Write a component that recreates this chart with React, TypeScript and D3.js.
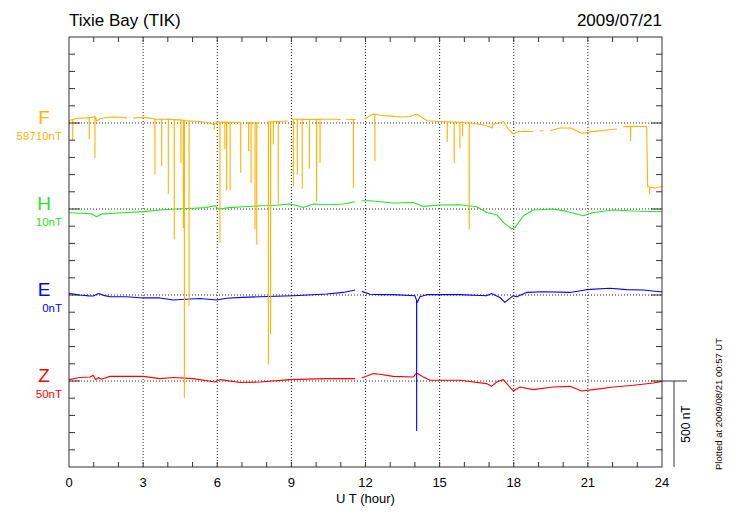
import React, { useEffect, useRef } from 'react';
import * as d3 from 'd3';

type Pt = [number, number | null];

const stationTitle = 'Tixie Bay (TIK)';
const dateLabel = '2009/07/21';
const plottedLabel = 'Plotted at 2009/08/21 00:57 UT';
const xTitle = 'U T (hour)';
const hourTicks = [0, 3, 6, 9, 12, 15, 18, 21, 24];

const channelNames = ['F', 'H', 'E', 'Z'];
const channelBaseLabels = ['59710nT', '10nT', '0nT', '50nT'];
// zero line of each channel on the 0..2500 nT stack
const channelZero = [2000, 1500, 1000, 500];
const scaleBarNT = 500;

// F: deviation from 59710 nT (null = data gap)
const fTrace: Pt[] = [
  [0.0, 15], [0.15, 20], [0.4, 28], [0.7, 30], [0.9, 32], [1.05, 38], [1.12, 12], [1.25, 25],
  [1.5, 32], [1.8, 35], [2.1, 33], [2.35, 30], [2.4, null], [2.6, 30], [2.9, 32], [3.2, 30],
  [3.55, 22], [3.9, 22], [4.2, 20], [4.5, 18], [4.8, 12], [5.2, 10], [5.6, 3], [5.85, -8],
  [6.0, 5], [6.3, 5], [6.6, 3], [6.9, 2], [7.0, null], [7.2, 2], [7.5, 0], [7.7, 2], [7.75, null],
  [8.0, 5], [8.3, 8], [8.6, 10], [8.85, 12], [8.9, null], [9.02, 22], [9.4, 22], [9.8, 20],
  [10.3, 22], [10.8, 22], [11.0, 20], [11.05, null], [11.22, 22], [11.6, 20], [11.65, null],
  [11.98, 23], [12.15, 40], [12.32, 52], [12.6, 45], [13.0, 40], [13.5, 35], [13.8, 38],
  [14.07, 52], [14.3, 30], [14.5, 13], [15.0, 9], [15.5, 6], [16.0, 3], [16.23, 0], [16.5, -6],
  [16.77, -12], [17.0, -20], [17.11, -29], [17.17, -6], [17.4, 0], [17.58, 9], [17.78, -35],
  [17.98, -64], [18.2, -49], [18.5, -49], [18.79, -49], [18.85, null], [19.06, -45], [19.2, -45],
  [19.25, null], [19.47, -45], [19.87, -29], [20.3, -29], [20.75, -60], [21.2, -50], [21.76, -41],
  [22.17, -35], [22.2, null], [22.43, -21], [22.8, -19], [23.1, -20], [23.38, -21], [23.42, -370],
  [23.7, -378], [24.0, -369],
];

// F: short downward spikes [hour, bottom nT]
const fSpikes: [number, number][] = [
  [0.15, -99], [0.82, -93], [1.05, -200], [3.48, -297], [3.75, -248], [4.02, -409], [4.26, -674],
  [4.53, -229], [4.63, -607], [4.67, -1595], [4.86, -1062], [5.88, -35], [6.11, -694], [6.31, -151],
  [6.38, -390], [6.52, -390], [6.95, -287], [7.27, -161], [7.37, -345], [7.53, -616], [7.6, -703],
  [8.07, -1401], [8.16, -1227], [8.27, -122], [8.47, -467], [9.08, -365], [9.24, -297], [9.44, -380],
  [9.73, -262], [10.02, -452], [10.16, -229], [11.51, -374], [12.38, -219], [15.31, -107],
  [15.59, -229], [15.82, -145], [15.93, -74], [16.2, -616], [22.73, -103], [23.5, -413],
];

// H: deviation from 10 nT
const hTrace: Pt[] = [
  [0, -22], [0.5, -25], [0.9, -28], [1.12, -45], [1.3, -30], [1.8, -25], [2.33, -20], [3.0, -15],
  [3.68, -6], [4.3, 0], [5.03, 4], [5.5, 8], [5.91, 19], [6.04, 0], [6.5, 8], [7.05, 13], [7.73, 19],
  [8.3, 20], [8.94, 29], [9.2, 22], [9.48, 9], [9.89, 29], [10.5, 25], [11.11, 29], [11.58, 42],
  [11.65, null], [11.85, 48], [12.18, 48], [13.12, 35], [13.93, 38], [14.34, 15], [15.01, 23],
  [15.82, 25], [16.5, 13], [16.9, -20], [17.31, -33], [17.58, -78], [17.92, -116], [18.05, -108],
  [18.39, -39], [18.79, -6], [19.6, 0], [20.14, -14], [20.82, -39], [21.22, -20], [22.03, -6],
  [22.84, -12], [23.92, -16], [24, -16],
];

// E: deviation from 0 nT
const eTrace: Pt[] = [
  [0, 9], [0.2, 5], [0.44, 0], [0.8, -5], [0.98, -6], [1.19, 9], [1.4, -2], [1.66, -10], [2.33, -10],
  [3.0, -17], [3.68, -17], [4.22, -29], [4.76, -25], [5.3, -20], [5.97, -29], [6.38, -19], [7.0, -14],
  [7.73, -10], [9.08, -4], [10.43, 6], [11.1, 15], [11.58, 29], [11.65, null], [11.85, 21],
  [12.19, 4], [12.59, 2], [13.12, 2], [14.0, -4], [14.1, -43], [14.2, -10], [14.48, 2], [15.82, 2],
  [16.9, -4], [17.1, 9], [17.44, -14], [17.64, -43], [17.98, -4], [18.12, -10], [18.52, 15],
  [19.2, 19], [20.28, 15], [20.95, 31], [21.89, 39], [22.57, 31], [23.24, 29], [23.92, 19], [24, 18],
];
const eSpikes: [number, number][] = [[14.07, -788]];

// Z: deviation from 50 nT
const zTrace: Pt[] = [
  [0, 8], [0.44, 20], [0.85, 23], [0.98, 33], [1.08, 8], [1.19, 20], [1.3, 10], [1.66, 27],
  [2.33, 27], [3.0, 27], [3.68, 14], [4.22, 20], [5.03, 14], [5.91, -6], [6.11, 8], [6.92, -9],
  [7.73, -6], [8.94, 8], [10.43, 14], [11.58, 14], [11.65, null], [11.85, 17], [12.32, 43],
  [12.59, 39], [13.12, 27], [13.93, 23], [14.07, 47], [14.34, 23], [14.62, 4], [15.82, 4],
  [16.9, -15], [17.1, -31], [17.31, -6], [17.58, 8], [17.78, -25], [17.98, -58], [18.25, -35],
  [18.79, -50], [19.6, -35], [20.28, -31], [20.75, -58], [21.22, -50], [22.03, -35], [22.84, -25],
  [23.65, -12], [24, -2],
];

const channelColors = ['#ffb400', '#1ee81e', '#0000ff', '#ff0000'];
const FONT = '"Liberation Sans", Arial, Helvetica, sans-serif';

// put each spike into its trace as base -> bottom -> base
function withSpikes(trace: Pt[], spikes: [number, number][]): Pt[] {
  const valid = trace.filter(p => p[1] !== null) as [number, number][];
  const out: Pt[] = [...trace];
  spikes.forEach(([t, v]) => {
    let i = valid.findIndex(p => p[0] >= t);
    if (i < 0) i = valid.length - 1;
    const b = valid[i];
    const a = valid[Math.max(0, i - 1)];
    const base = b[0] === a[0] ? b[1] : a[1] + ((t - a[0]) / (b[0] - a[0])) * (b[1] - a[1]);
    out.push([t - 0.002, base], [t, v], [t + 0.002, base]);
  });
  return out.sort((p, q) => p[0] - q[0]);
}

const TixiePlot = () => {
  const ref = useRef<SVGSVGElement>(null);
  const svgWidth = 730;
  const svgHeight = 520;
  const margin = { top: 37, right: 68, bottom: 53, left: 69 };

  useEffect(() => {
    const svg = d3.select(ref.current);
    svg.selectAll('*').remove();

    const x = d3.scaleLinear().domain([0, 24]).range([margin.left, svgWidth - margin.right]);
    const y = d3.scaleLinear().domain([0, 2500]).range([svgHeight - margin.bottom, margin.top]);
    const [x0, x1] = x.range();
    const [yb, yt] = y.range();

    // dotted grid: every 3 hours and each channel zero line
    const grid = svg.append('g').attr('stroke', '#222').attr('stroke-width', 1).attr('stroke-dasharray', '1,2');
    hourTicks.slice(1, -1).forEach(h => {
      grid.append('line').attr('x1', x(h)).attr('x2', x(h)).attr('y1', yt).attr('y2', yb);
    });
    channelZero.forEach(z => {
      grid.append('line').attr('x1', x0).attr('x2', x1).attr('y1', y(z)).attr('y2', y(z));
    });

    // traces
    const line = d3.line<Pt>()
      .defined(d => d[1] !== null)
      .x(d => x(d[0]))
      .y(d => y(d[1] as number));

    const series: Pt[][] = [
      withSpikes(fTrace, fSpikes),
      hTrace,
      withSpikes(eTrace, eSpikes),
      zTrace,
    ];
    [3, 1, 2, 0].forEach(i => {
      const pts = series[i].map(p => [p[0], p[1] === null ? null : p[1] + channelZero[i]] as Pt);
      svg.append('path')
        .attr('d', line(pts))
        .attr('fill', 'none')
        .attr('stroke', channelColors[i])
        .attr('stroke-width', 1.1)
        .attr('stroke-linejoin', 'round');
    });

    // frame and ticks
    const axis = svg.append('g').attr('stroke', '#333').attr('stroke-width', 1).attr('fill', 'none');
    axis.append('rect').attr('x', x0).attr('y', yt).attr('width', x1 - x0).attr('height', yb - yt);
    d3.range(1, 24).forEach(h => {
      axis.append('line').attr('x1', x(h)).attr('x2', x(h)).attr('y1', yt).attr('y2', yt + 5);
      axis.append('line').attr('x1', x(h)).attr('x2', x(h)).attr('y1', yb).attr('y2', yb - 5);
    });
    d3.range(100, 2500, 100).forEach(v => {
      const len = v % 500 === 0 ? 11 : 6;
      axis.append('line').attr('x1', x0).attr('x2', x0 + len).attr('y1', y(v)).attr('y2', y(v));
      axis.append('line').attr('x1', x1).attr('x2', x1 - len).attr('y1', y(v)).attr('y2', y(v));
    });

    // 500 nT scale bar
    const zZero = channelZero[3];
    axis.append('line').attr('x1', x1).attr('x2', x1 + 25).attr('y1', y(zZero)).attr('y2', y(zZero));
    axis.append('line').attr('x1', x1 + 12).attr('x2', x1 + 12).attr('y1', y(zZero)).attr('y2', y(zZero - scaleBarNT));

    const text = svg.append('g').attr('font-family', FONT).attr('fill', '#000');

    text.append('text').attr('x', x0).attr('y', 26).attr('font-size', 17).text(stationTitle);
    text.append('text').attr('x', x1).attr('y', 26).attr('font-size', 17).attr('text-anchor', 'end').text(dateLabel);

    hourTicks.forEach(h => {
      text.append('text')
        .attr('x', x(h)).attr('y', yb + 20)
        .attr('font-size', 13).attr('text-anchor', 'middle')
        .text(h);
    });
    text.append('text')
      .attr('x', x(12)).attr('y', yb + 36)
      .attr('font-size', 13).attr('text-anchor', 'middle')
      .text(xTitle);

    channelNames.forEach((name, i) => {
      const yz = y(channelZero[i]);
      text.append('text')
        .attr('x', 44).attr('y', yz + 1)
        .attr('font-size', 19).attr('text-anchor', 'middle')
        .attr('fill', channelColors[i])
        .text(name);
      text.append('text')
        .attr('x', x0 - 7).attr('y', yz + 17)
        .attr('font-size', 11.5).attr('text-anchor', 'end')
        .attr('fill', channelColors[i])
        .text(channelBaseLabels[i]);
    });

    text.append('text')
      .attr('transform', `translate(${x1 + 28},${y(zZero - scaleBarNT / 2)}) rotate(-90)`)
      .attr('font-size', 12).attr('text-anchor', 'middle')
      .text(`${scaleBarNT} nT`);
    text.append('text')
      .attr('transform', `translate(${x1 + 60},${y(zZero - scaleBarNT / 2) - 20}) rotate(-90)`)
      .attr('font-size', 9.5).attr('text-anchor', 'middle')
      .text(plottedLabel);
  }, []);

  return <svg ref={ref} width={svgWidth} height={svgHeight} style={{ position: 'absolute', left: 0, top: 0, background: '#fff' }} />;
};

export default function App() {
  return <TixiePlot />;
}
